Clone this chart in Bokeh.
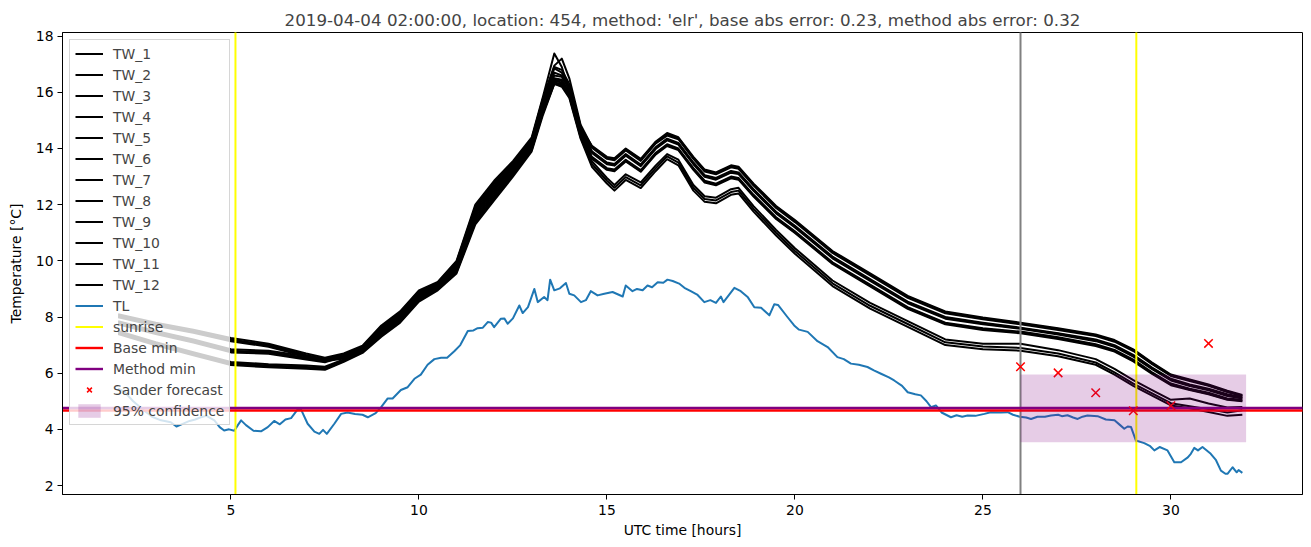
from bokeh.plotting import figure
from bokeh.models import Range1d, FixedTicker, Legend, LegendItem
from bokeh.embed import file_html
from bokeh.resources import INLINE

TITLE = "2019-04-04 02:00:00, location: 454, method: 'elr', base abs error: 0.23, method abs error: 0.32"

TW_HOURS = [2, 3, 4, 5, 6, 7, 7.5, 8, 8.5, 9, 9.5, 10, 10.5, 11, 11.5, 12, 12.5, 13, 13.3,
            13.6, 13.8, 14, 14.3, 14.6, 15, 15.2, 15.5, 15.9, 16.3, 16.6, 16.9, 17.3, 17.6,
            17.9, 18.3, 18.5, 18.9, 19.5, 20, 21, 22, 23, 24, 25, 26, 27, 28, 28.5, 29, 29.5,
            30, 30.5, 31, 31.5, 31.9]

TW_1 = [8.1, 7.8, 7.55, 7.25, 7.05, 6.7, 6.55,
        6.7, 6.98, 7.7, 8.2, 8.95, 9.25, 10.0, 12.0, 12.85, 13.55, 14.4, 15.85,
        17.38, 16.9, 16.05, 14.75,
        14.1, 13.7, 13.65, 14.0, 13.63, 14.25, 14.55, 14.4, 13.7, 13.25, 13.15, 13.4, 13.35, 12.75, 11.95,
        11.45, 10.35, 9.55, 8.75, 8.2, 7.98, 7.8, 7.6, 7.38, 7.18, 6.85, 6.38, 5.95, 5.78, 5.6, 5.38, 5.22]
TW_2 = [8.05, 7.75, 7.5, 7.2, 7.0, 6.65, 6.5,
        6.67, 6.95, 7.66, 8.16, 8.91, 9.22, 9.96, 11.93, 12.78, 13.5, 14.35, 15.79,
        16.95, 17.2, 16.5, 14.85,
        14.07, 13.67, 13.62, 13.97, 13.6, 14.22, 14.5, 14.37, 13.67, 13.22, 13.12, 13.37, 13.32, 12.72, 11.92,
        11.42, 10.32, 9.52, 8.72, 8.17, 7.95, 7.77, 7.57, 7.35, 7.15, 6.82, 6.35, 5.92, 5.75, 5.57, 5.35, 5.2]
TW_3 = [8.02, 7.72, 7.47, 7.17, 6.97, 6.62, 6.47,
        6.63, 6.92, 7.6, 8.1, 8.85, 9.18, 9.89, 11.83, 12.68, 13.41, 14.28, 15.69,
        16.85, 16.7, 16.2, 14.7,
        14.03, 13.63, 13.58, 13.93, 13.56, 14.18, 14.46, 14.33, 13.63, 13.18, 13.08, 13.33, 13.28, 12.68, 11.88,
        11.38, 10.28, 9.48, 8.68, 8.13, 7.92, 7.74, 7.54, 7.32, 7.12, 6.79, 6.32, 5.9, 5.72, 5.55, 5.33, 5.18]
TW_4 = [7.85, 7.5, 7.2, 6.85, 6.8, 6.6, 6.5,
        6.58, 6.88, 7.54, 8.04, 8.79, 9.13, 9.82, 11.72, 12.57, 13.33, 14.2, 15.59,
        16.6, 16.55, 16.1, 14.6,
        13.9, 13.5, 13.45, 13.8, 13.43, 14.05, 14.35, 14.2, 13.5, 13.05, 12.95, 13.2, 13.15, 12.55, 11.75,
        11.25, 10.15, 9.35, 8.55, 8.0, 7.8, 7.62, 7.42, 7.2, 7.0, 6.65, 6.2, 5.8, 5.6, 5.45, 5.25, 5.14]
TW_5 = [7.99, 7.69, 7.44, 7.14, 6.94, 6.59, 6.44,
        6.66, 6.94, 7.64, 8.14, 8.89, 9.2, 9.93, 11.9, 12.75, 13.47, 14.33, 15.75,
        16.9, 16.8, 16.3, 14.8,
        13.87, 13.47, 13.42, 13.77, 13.4, 14.02, 14.32, 14.17, 13.47, 13.02, 12.92, 13.17, 13.12, 12.52, 11.72,
        11.22, 10.12, 9.32, 8.52, 7.97, 7.77, 7.6, 7.4, 7.17, 6.97, 6.62, 6.17, 5.77, 5.57, 5.42, 5.22, 5.12]
TW_6 = [7.8, 7.45, 7.15, 6.8, 6.75, 6.55, 6.45,
        6.55, 6.85, 7.5, 8.0, 8.75, 9.1, 9.78, 11.65, 12.5, 13.28, 14.15, 15.53,
        16.5, 16.45, 16.0, 14.55,
        13.84, 13.44, 13.39, 13.74, 13.37, 13.99, 14.29, 14.14, 13.44, 12.99, 12.89, 13.14, 13.09, 12.49, 11.69,
        11.19, 10.09, 9.29, 8.49, 7.94, 7.74, 7.58, 7.38, 7.14, 6.94, 6.59, 6.14, 5.74, 5.54, 5.39, 5.19, 5.1]
TW_7 = [7.77, 7.42, 7.12, 6.77, 6.72, 6.52, 6.42,
        6.52, 6.82, 7.46, 7.96, 8.71, 9.07, 9.73, 11.58, 12.43, 13.22, 14.1, 15.46,
        16.45, 16.4, 15.95, 14.5,
        13.7, 13.3, 13.25, 13.6, 13.23, 13.85, 14.15, 14.0, 13.3, 12.85, 12.75, 13.0, 12.95, 12.35, 11.55,
        11.05, 9.95, 9.15, 8.35, 7.8, 7.6, 7.48, 7.28, 7.03, 6.83, 6.48, 6.03, 5.63, 5.45, 5.3, 5.1, 5.05]
TW_8 = [7.5, 7.1, 6.75, 6.4, 6.32, 6.27, 6.23,
        6.49, 6.8, 7.42, 7.92, 8.67, 9.04, 9.69, 11.51, 12.36, 13.17, 14.05, 15.4,
        16.4, 16.35, 15.9, 14.5,
        13.67, 13.27, 13.22, 13.57, 13.2, 13.82, 14.12, 13.97, 13.27, 12.82, 12.72, 12.97, 12.92, 12.32, 11.52,
        11.02, 9.92, 9.12, 8.32, 7.77, 7.57, 7.45, 7.25, 7.0, 6.8, 6.45, 6.0, 5.6, 5.42, 5.27, 5.07, 5.02]
TW_9 = [7.74, 7.39, 7.09, 6.74, 6.69, 6.49, 6.39,
        6.6, 6.89, 7.56, 8.06, 8.81, 9.15, 9.84, 11.76, 12.61, 13.36, 14.23, 15.62,
        16.7, 16.6, 16.15, 14.65,
        13.64, 13.24, 13.19, 13.54, 13.17, 13.79, 14.09, 13.94, 13.24, 12.79, 12.69, 12.94, 12.89, 12.29, 11.49,
        10.99, 9.89, 9.09, 8.29, 7.74, 7.54, 7.42, 7.22, 6.97, 6.77, 6.42, 5.97, 5.57, 5.4, 5.25, 5.05, 5.0]
TW_10 = [7.45, 7.05, 6.7, 6.35, 6.27, 6.22, 6.18,
         6.46, 6.77, 7.38, 7.88, 8.63, 9.01, 9.64, 11.44, 12.29, 13.11, 14.0, 15.33,
         16.35, 16.3, 15.9, 14.45,
         13.55, 12.95, 12.7, 13.08, 12.79, 13.4, 13.8, 13.6, 12.7, 12.3, 12.25, 12.55, 12.6, 11.95, 11.1,
         10.45, 9.3, 8.5, 7.85, 7.2, 7.05, 7.05, 6.82, 6.5, 6.15, 5.75, 5.4, 5.05, 5.1, 4.92, 4.78, 4.8]
TW_11 = [7.42, 7.02, 6.67, 6.32, 6.24, 6.19, 6.15,
         6.43, 6.75, 7.34, 7.84, 8.59, 8.98, 9.6, 11.37, 12.22, 13.06, 13.95, 15.27,
         16.3, 16.25, 15.85, 14.4,
         13.45, 12.85, 12.6, 12.98, 12.69, 13.3, 13.72, 13.5, 12.6, 12.2, 12.15, 12.45, 12.5, 11.85, 11.0,
         10.35, 9.2, 8.4, 7.75, 7.1, 6.95, 6.9, 6.7, 6.38, 6.03, 5.63, 5.28, 4.93, 4.82, 4.72, 4.6, 4.68]
TW_12 = [7.39, 6.99, 6.64, 6.29, 6.21, 6.16, 6.12,
         6.4, 6.72, 7.3, 7.8, 8.55, 8.95, 9.55, 11.3, 12.15, 13.0, 13.9, 15.2,
         16.3, 16.2, 15.8, 14.35,
         13.35, 12.75, 12.5, 12.88, 12.59, 13.2, 13.62, 13.4, 12.5, 12.1, 12.05, 12.35, 12.4, 11.75, 10.9,
         10.25, 9.1, 8.3, 7.65, 7.0, 6.85, 6.8, 6.6, 6.3, 5.95, 5.55, 5.2, 4.85, 4.75, 4.62, 4.48, 4.52]
TW_SERIES = [TW_1, TW_2, TW_3, TW_4, TW_5, TW_6, TW_7, TW_8, TW_9, TW_10, TW_11, TW_12]
TW_NAMES = ["TW_%d" % (i + 1) for i in range(12)]

TL_HOURS = [2.0, 2.16, 2.4, 2.69, 2.9, 3.14, 3.4, 3.55, 3.67, 3.9, 4.05, 4.2, 4.35, 4.56, 4.7, 4.82,
            4.95, 5.09, 5.18, 5.27, 5.4, 5.6, 5.8, 5.98, 6.15, 6.3, 6.45, 6.6, 6.77, 6.86, 7.04,
            7.22, 7.35, 7.45, 7.55, 7.75, 7.93, 8.1, 8.3, 8.5, 8.64, 8.85, 9.0, 9.17, 9.3, 9.52,
            9.7, 9.88, 10.05, 10.23, 10.41, 10.59, 10.75, 10.94, 11.1, 11.3, 11.45, 11.56, 11.7,
            11.83, 11.92, 12.0, 12.18, 12.27, 12.36, 12.5, 12.67, 12.76, 12.9, 13.07, 13.16, 13.33,
            13.42, 13.49, 13.6, 13.75, 13.91, 14.0, 14.13, 14.31, 14.44, 14.57, 14.75, 14.93, 15.15,
            15.3, 15.42, 15.5, 15.68, 15.8, 15.95, 16.08, 16.2, 16.35, 16.5, 16.61, 16.75, 16.92,
            17.06, 17.23, 17.4, 17.59, 17.75, 17.9, 18.03, 18.1, 18.39, 18.56, 18.75, 18.92, 19.1,
            19.32, 19.45, 19.55, 19.8, 19.98, 20.11, 20.34, 20.6, 20.87, 21.13, 21.3, 21.49, 21.7,
            21.93, 22.1, 22.29, 22.5, 22.64, 22.85, 23.0, 23.2, 23.35, 23.5, 23.62, 23.75, 23.9,
            24.15, 24.3, 24.45, 24.59, 24.8, 25.04, 25.21, 25.48, 25.66, 25.8, 25.98, 26.15, 26.28,
            26.45, 26.65, 26.81, 27.0, 27.1, 27.25, 27.4, 27.52, 27.65, 27.78, 28.05, 28.27, 28.5,
            28.65, 28.76, 28.85, 28.94, 29.07, 29.29, 29.45, 29.56, 29.7, 29.91, 30.09, 30.27, 30.45,
            30.53, 30.62, 30.72, 30.84, 31.06, 31.2, 31.33, 31.45, 31.51, 31.64, 31.75, 31.8, 31.9]
TL = [5.45, 5.35, 5.0, 4.67, 4.45, 4.32, 4.25, 4.1, 4.17, 4.3, 4.35, 4.43, 4.48, 4.32, 4.08, 3.96,
      4.0, 3.95, 4.14, 4.32, 4.15, 3.95, 3.93, 4.08, 4.3, 4.18, 4.35, 4.4, 4.7, 4.72, 4.2,
      3.92, 3.84, 3.98, 3.84, 4.2, 4.55, 4.6, 4.55, 4.52, 4.43, 4.58, 4.8, 5.1, 5.1, 5.4,
      5.5, 5.8, 5.95, 6.3, 6.5, 6.55, 6.55, 6.78, 7.0, 7.5, 7.52, 7.6, 7.62,
      7.82, 7.8, 7.64, 7.94, 7.95, 7.76, 7.95, 8.41, 8.14, 8.35, 9.0, 8.53, 8.71,
      8.6, 9.33, 8.95, 9.02, 9.21, 8.83, 8.77, 8.53, 8.6, 8.92, 8.77, 8.83, 8.89,
      8.8, 8.73, 9.12, 8.92, 9.0, 8.95, 9.12, 9.06, 9.24, 9.22, 9.33, 9.28, 9.19,
      9.04, 8.92, 8.8, 8.53, 8.6, 8.5, 8.73, 8.53, 9.04, 8.92, 8.7, 8.35, 8.33,
      8.06, 8.45, 8.43, 8.0, 7.7, 7.55, 7.47, 7.14, 6.93, 6.57, 6.5, 6.34, 6.3,
      6.22, 6.1, 5.98, 5.85, 5.74, 5.55, 5.32, 5.25, 5.21, 5.0, 4.79, 4.85, 4.6,
      4.43, 4.5, 4.45, 4.49, 4.48, 4.55, 4.61, 4.6, 4.61, 4.52, 4.45, 4.42, 4.37,
      4.45, 4.45, 4.49, 4.52, 4.47, 4.5, 4.42, 4.37, 4.45, 4.49, 4.47, 4.35, 4.32,
      4.15, 4.02, 4.1, 4.08, 3.6, 3.51, 3.4, 3.25, 3.37, 3.25, 2.83, 2.83, 3.0,
      3.13, 3.34, 3.25, 3.37, 3.13, 2.9, 2.53, 2.42, 2.42, 2.65, 2.47, 2.55, 2.45]

SUNRISE = [5.12, 29.08]
FORECAST_HOUR = 26
BASE_MIN = 4.67
METHOD_MIN = 4.76
SANDER_HOURS = [26, 27, 28, 29, 30, 31]
SANDER = [6.23, 6.01, 5.30, 4.66, 4.84, 7.06]
CONF_START, CONF_END = 26, 32
CONF_LOW, CONF_HIGH = 3.54, 5.95

X_LIM = (0.52, 33.5)
Y_LIM = (1.68, 18.13)
X_TICKS = [5, 10, 15, 20, 25, 30]
Y_TICKS = [2, 4, 6, 8, 10, 12, 14, 16, 18]

FONT = "DejaVu Sans"
FS = "13.9px"

p = figure(width=1311, height=547, output_backend="svg", toolbar_location=None,
           x_range=Range1d(*X_LIM), y_range=Range1d(*Y_LIM),
           min_border_left=62, min_border_right=9, min_border_top=32, min_border_bottom=53,
           title=TITLE)
p.title.text_font = FONT
p.title.text_font_size = "16.7px"
p.title.text_font_style = "normal"
p.title.align = "center"
p.title.standoff = 5
p.xgrid.visible = False
p.ygrid.visible = False
p.outline_line_color = "black"
p.outline_line_width = 1
p.background_fill_color = "white"

for ax in (p.xaxis[0], p.yaxis[0]):
    ax.major_label_text_font = FONT
    ax.major_label_text_font_size = FS
    ax.axis_label_text_font = FONT
    ax.axis_label_text_font_size = FS
    ax.axis_label_text_font_style = "normal"
    ax.major_tick_out = 5
    ax.major_tick_in = 0
    ax.minor_tick_out = 0
    ax.minor_tick_in = 0
    ax.major_label_standoff = 4
    ax.axis_line_color = "black"
    ax.major_tick_line_color = "black"
    ax.major_label_text_color = "black"
    ax.axis_label_text_color = "black"
p.xaxis.major_label_standoff = 5
p.xaxis.ticker = FixedTicker(ticks=X_TICKS)
p.yaxis.ticker = FixedTicker(ticks=Y_TICKS)
p.xaxis.axis_label = "UTC time [hours]"
p.yaxis.axis_label = "Temperature [°C]"
p.xaxis.axis_label_standoff = 4
p.yaxis.axis_label_standoff = 9

items = []
for name, series in zip(TW_NAMES, TW_SERIES):
    r = p.line(TW_HOURS, series, line_color="black", line_width=2, line_join="round")
    items.append(LegendItem(label=name, renderers=[r]))

r_tl = p.line(TL_HOURS, TL, line_color="#1f77b4", line_width=2, line_join="round")
items.append(LegendItem(label="TL", renderers=[r_tl]))

p.segment(x0=[FORECAST_HOUR], y0=[Y_LIM[0] - 5], x1=[FORECAST_HOUR], y1=[Y_LIM[1] + 5],
          line_color="gray", line_width=2)

r_sun = p.segment(x0=SUNRISE, y0=[Y_LIM[0] - 5] * len(SUNRISE), x1=SUNRISE,
                  y1=[Y_LIM[1] + 5] * len(SUNRISE), line_color="#ffff00", line_width=2)
items.append(LegendItem(label="sunrise", renderers=[r_sun]))

r_base = p.segment(x0=[X_LIM[0] - 5], y0=[BASE_MIN], x1=[X_LIM[1] + 5], y1=[BASE_MIN],
                   line_color="red", line_width=2.4)
items.append(LegendItem(label="Base min", renderers=[r_base]))

r_meth = p.segment(x0=[X_LIM[0] - 5], y0=[METHOD_MIN], x1=[X_LIM[1] + 5], y1=[METHOD_MIN],
                   line_color="purple", line_width=2.4)
items.append(LegendItem(label="Method min", renderers=[r_meth]))

r_sander = p.scatter(SANDER_HOURS, SANDER, marker="x", size=12, line_color="red", line_width=1.5)
items.append(LegendItem(label="Sander forecast", renderers=[r_sander]))

r_conf = p.quad(left=[CONF_START], right=[CONF_END], bottom=[CONF_LOW], top=[CONF_HIGH],
                fill_color="purple", fill_alpha=0.2, line_color=None)
items.append(LegendItem(label="95% confidence", renderers=[r_conf]))

legend = Legend(items=items, location="top_left")
legend.label_text_font = FONT
legend.label_text_font_size = FS
legend.glyph_width = 28
legend.glyph_height = 17
legend.label_height = 17
legend.spacing = 4
legend.padding = 5
legend.margin = 7
legend.label_standoff = 10
legend.border_line_color = "#cccccc"
legend.border_line_alpha = 0.8
legend.background_fill_alpha = 0.8
p.add_layout(legend)

open("out.html", "w").write(file_html(p, INLINE))
